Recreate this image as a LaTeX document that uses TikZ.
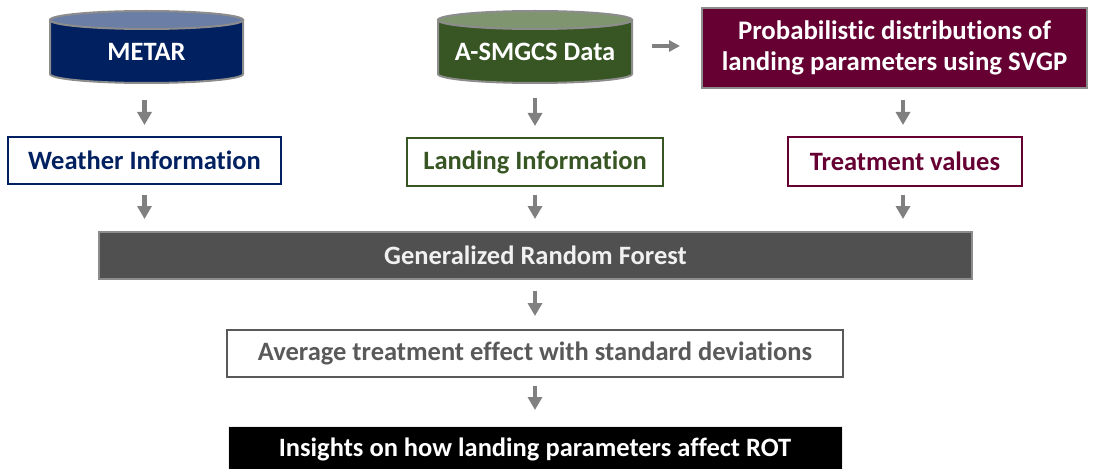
\documentclass[tikz,border=0pt]{standalone}
\usepackage{fontspec}
\setmainfont{Carlito}[RawFeature={-liga;-clig}]
\usetikzlibrary{arrows.meta}
\definecolor{navy}{HTML}{002060}
\definecolor{navytop}{HTML}{6B7EA6}
\definecolor{dgreen}{HTML}{375623}
\definecolor{greentop}{HTML}{7F9570}
\definecolor{maroon}{HTML}{660033}
\definecolor{arrowgray}{HTML}{808080}
\definecolor{cylborder}{HTML}{8C8C8C}
\definecolor{grffill}{HTML}{505050}
\definecolor{txtgray}{HTML}{595959}
\tikzset{
  base/.style={font=\fontsize{26.5}{30}\selectfont\bfseries, inner sep=0pt, align=center},
  cyltext/.style={base, text=white, minimum width=193pt},
  outbox/.style={base, draw=#1, text=#1, fill=white, line width=2pt},
  blockarrow/.style={draw=arrowgray, line width=4.5pt, -{Triangle[width=14pt,length=13pt]}},
  cylbody/.style={line width=2pt, draw=cylborder}
}
\begin{document}
\begin{tikzpicture}[x=1pt,y=-1pt]
\useasboundingbox (0,0) rectangle (1099,468);
% METAR cylinder
\filldraw[cylbody, fill=navy] (50,20) -- (50,74) arc[start angle=180,end angle=0,x radius=96.5,y radius=9] -- (243,20) -- cycle;
\filldraw[cylbody, fill=navytop] (146.5,20) ellipse [x radius=96.5, y radius=9];
\node[cyltext, minimum height=62pt] (metar) at (146.5,52) {METAR};
% A-SMGCS cylinder
\filldraw[cylbody, fill=dgreen] (438,20) -- (438,74) arc[start angle=180,end angle=0,x radius=97,y radius=9] -- (632,20) -- cycle;
\filldraw[cylbody, fill=greentop] (535,20) ellipse [x radius=97, y radius=9];
\node[cyltext, minimum width=194pt, minimum height=62pt] (asmgcs) at (535,52) {A-SMGCS Data};
% Probabilistic box
\node[base, fill=maroon, draw=cylborder, line width=2pt, text=white, minimum width=385pt, minimum height=80pt,
      font=\fontsize{26.8}{31}\selectfont\bfseries] (prob) at (894.5,48)
      {Probabilistic distributions of\\landing parameters using SVGP};
% Second row
\node[outbox=navy, minimum width=273pt, minimum height=47pt] (weather) at (144.5,160.5) {Weather Information};
\node[outbox=dgreen, minimum width=256pt, minimum height=48pt] (landing) at (535,162) {Landing Information};
\node[outbox=maroon, minimum width=234pt, minimum height=49pt] (treat) at (905,161.5) {Treatment values};
% GRF
\node[base, fill=grffill, draw=cylborder, line width=2pt, text=white!94!black, minimum width=873pt, minimum height=47pt] (grf) at (535.5,255.5) {Generalized Random Forest};
% Average
\node[outbox=txtgray, minimum width=616pt, minimum height=47pt] (ate) at (535,353.5) {Average treatment effect with standard deviations};
% Insights
\node[base, fill=black, draw=white!92!black, line width=1pt, text=white, minimum width=614pt, minimum height=46pt] (ins) at (535,449.5) {Insights on how landing parameters affect ROT};
% arrows
\draw[blockarrow, shorten <=17pt, shorten >=11pt] (metar.south -| weather.north) -- (weather.north);
\draw[blockarrow, shorten <=15pt, shorten >=11pt] (asmgcs.south) -- (landing.north);
\draw[blockarrow, shorten <=11pt, shorten >=11pt] (prob.south -| 903,0) -- (treat.north -| 903,0);
\draw[draw=arrowgray, line width=4pt, -{Triangle[width=11pt,length=11pt]}, shorten <=20pt, shorten >=21pt] (asmgcs.east |- 0,46) -- (prob.west |- 0,46);
\draw[blockarrow, shorten <=10pt, shorten >=12pt] (weather.south) -- (weather.south |- grf.north);
\draw[blockarrow, shorten <=8pt, shorten >=12pt] (landing.south) -- (landing.south |- grf.north);
\draw[blockarrow, shorten <=8pt, shorten >=12pt] (treat.south -| 903,0) -- (grf.north -| 903,0);
\draw[blockarrow, shorten <=11pt, shorten >=13pt] (grf.south -| ate.north) -- (ate.north);
\draw[blockarrow, shorten <=8pt, shorten >=16pt] (ate.south) -- (ins.north);
\end{tikzpicture}
\end{document}
